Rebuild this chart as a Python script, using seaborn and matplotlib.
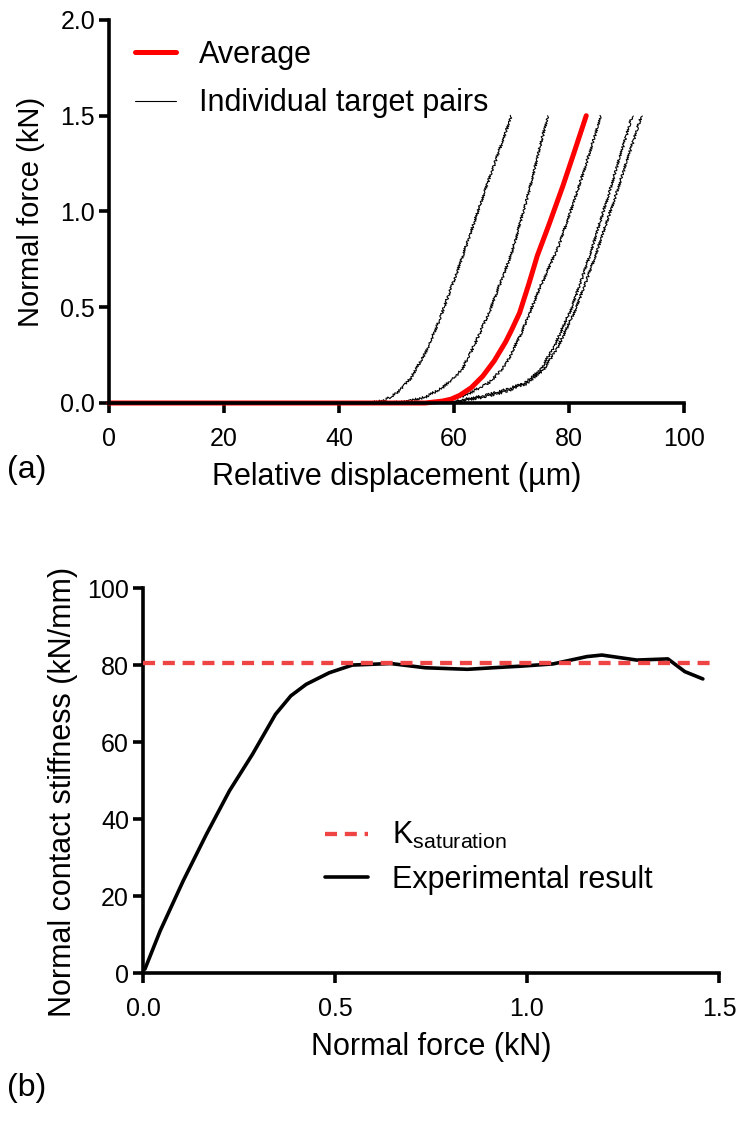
# region Load libraries
import matplotlib

matplotlib.use("Agg")
import matplotlib.pyplot as plt
import seaborn as sns

# endregion

# region data
# (a) force-displacement curves, x in um, y in kN
avg_x = [0, 55, 56.5, 58, 59.5, 61, 62, 63, 64, 65, 66, 67, 68, 69, 70, 71.4, 73, 74.5, 76.5, 78.9, 80.8, 83]
avg_y = [0, 0, 0.005, 0.01, 0.02, 0.04, 0.06, 0.08, 0.11, 0.14, 0.18, 0.22, 0.27, 0.32, 0.38, 0.47, 0.62,
         0.77, 0.93, 1.13, 1.3, 1.5]

p1_x = [0, 45, 48, 50, 52.5, 55, 57.3, 61.2, 65.4, 70]
p1_y = [0, 0, 0.015, 0.05, 0.13, 0.26, 0.42, 0.74, 1.11, 1.5]
p2_x = [0, 49, 52, 55, 58, 61.3, 63.5, 66.2, 70, 73, 76.3]
p2_y = [0, 0, 0.01, 0.03, 0.08, 0.17, 0.30, 0.48, 0.78, 1.1, 1.5]
p3_x = [0, 54, 58, 62, 66.3, 69, 71.8, 74.9, 78.2, 81.4, 85.6]
p3_y = [0, 0, 0.01, 0.04, 0.11, 0.2, 0.37, 0.6, 0.82, 1.1, 1.5]
p4_x = [0, 55, 60, 64, 68, 72, 75, 77.5, 80.5, 83.5, 87, 91]
p4_y = [0, 0, 0.01, 0.03, 0.06, 0.1, 0.17, 0.3, 0.5, 0.76, 1.1, 1.5]
p5_x = [0, 56, 61, 65, 69, 72.5, 75.5, 78.2, 81.3, 84.5, 88.3, 92.6]
p5_y = [0, 0, 0.01, 0.03, 0.06, 0.1, 0.17, 0.3, 0.5, 0.76, 1.1, 1.5]

pairs = [(p1_x, p1_y), (p2_x, p2_y), (p3_x, p3_y), (p4_x, p4_y), (p5_x, p5_y)]

# (b) stiffness vs force, kN and kN/mm
force = [0.005, 0.045, 0.105, 0.165, 0.225, 0.285, 0.345, 0.385, 0.425, 0.485,
         0.545, 0.645, 0.735, 0.845, 0.945, 0.982, 1.068, 1.156, 1.195, 1.286,
         1.367, 1.411, 1.458]
stiff = [1, 11, 24, 36, 47.3, 56.8, 67.2, 72, 75, 78,
         80, 80.4, 79.3, 78.9, 79.5, 79.7, 80.3, 82.2, 82.6, 81.3,
         81.6, 78.3, 76.4]
k_sat = 80.5
# endregion

# region style
sns.set_style("ticks")
plt.rcParams["font.family"] = ["Liberation Sans", "DejaVu Sans"]
plt.rcParams["mathtext.fontset"] = "custom"
plt.rcParams["mathtext.rm"] = "Liberation Sans"
plt.rcParams["mathtext.it"] = "Liberation Sans"
plt.rcParams["text.color"] = "black"
plt.rcParams["axes.labelcolor"] = "black"
TICK_FS = 18
LAB_FS = 22
LEG_FS = 22
SPINE_W = 2.6


def prism_axes(ax):
    sns.despine(ax=ax)
    for s in ["left", "bottom"]:
        ax.spines[s].set_linewidth(SPINE_W)
        ax.spines[s].set_color("black")
    ax.tick_params(width=SPINE_W, length=7, labelsize=TICK_FS, colors="black", direction="out")
    ax.tick_params(axis="y", pad=3)
    ax.tick_params(axis="x", pad=10)


# endregion

fig = plt.figure(figsize=(7.45, 11.21), dpi=100)

# region (a)
ax1 = fig.add_axes([0.1463, 0.6405, 0.7718, 0.3417])
for px, py in pairs:
    sns.lineplot(x=px, y=py, ax=ax1, color="black", lw=0.8, sort=False, estimator=None)
    ln = ax1.lines[-1]
    ln.set_sketch_params(scale=1.3, length=2.5, randomness=2)
    ln.set_clip_on(False)
sns.lineplot(x=avg_x, y=avg_y, ax=ax1, color="#ff0000", lw=3.6, sort=False, estimator=None)
ax1.lines[-1].set_clip_on(False)
ax1.set_xlim(0, 100)
ax1.set_ylim(0, 2.0)
ax1.set_xticks([0, 20, 40, 60, 80, 100])
ax1.set_yticks([0, 0.5, 1.0, 1.5, 2.0])
ax1.set_yticklabels(["0.0", "0.5", "1.0", "1.5", "2.0"])
prism_axes(ax1)
ax1.set_xlabel("Relative displacement (µm)", fontsize=LAB_FS, labelpad=8)
ax1.set_ylabel("Normal force (kN)", fontsize=LAB_FS - 1)
ax1.yaxis.set_label_coords(-0.112, 0.5)
h_avg = plt.Line2D([], [], color="#ff0000", lw=3.6)
h_ind = plt.Line2D([], [], color="black", lw=0.8)
ax1.legend([h_avg, h_ind], ["Average", "Individual target pairs"], loc="upper left",
           bbox_to_anchor=(0.045, 0.948), frameon=False, fontsize=LEG_FS, borderpad=0,
           borderaxespad=0, handlelength=1.35, handletextpad=0.75, labelspacing=0.6)
# endregion

# region (b)
ax2 = fig.add_axes([0.1919, 0.132, 0.7732, 0.3434])
sns.lineplot(x=force, y=stiff, ax=ax2, color="black", lw=2.6, sort=False, estimator=None)
ax2.axhline(k_sat, xmin=0, xmax=0.985, color="#ef4444", lw=3.1, dashes=(2.8, 1.8), zorder=3)
ax2.set_xlim(0, 1.5)
ax2.set_ylim(0, 100)
ax2.set_xticks([0, 0.5, 1.0, 1.5])
ax2.set_xticklabels(["0.0", "0.5", "1.0", "1.5"])
ax2.set_yticks([0, 20, 40, 60, 80, 100])
prism_axes(ax2)
ax2.set_xlabel("Normal force (kN)", fontsize=LAB_FS, labelpad=8)
ax2.set_ylabel("Normal contact stiffness (kN/mm)", fontsize=LAB_FS)
ax2.yaxis.set_label_coords(-0.113, 0.47)
h_k = plt.Line2D([], [], color="#ef4444", lw=3.1, dashes=(2.8, 1.8))
h_e = plt.Line2D([], [], color="black", lw=2.6)
ax2.legend([h_k, h_e], [r"$\mathrm{K_{saturation}}$", "Experimental result"], loc="upper left",
           bbox_to_anchor=(0.316, 0.397), frameon=False, fontsize=LEG_FS, borderpad=0,
           borderaxespad=0, handlelength=1.4, handletextpad=0.8, labelspacing=0.45)
# endregion

fig.text(0.01, 0.5807, "(a)", fontsize=23, va="center", ha="left")
fig.text(0.01, 0.0294, "(b)", fontsize=23, va="center", ha="left")

fig.savefig("out.png", dpi=100)
